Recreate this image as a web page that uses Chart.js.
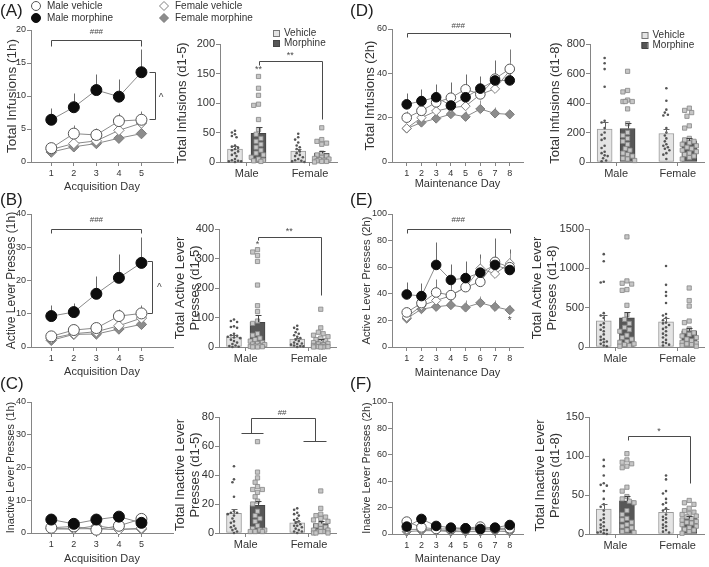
<!DOCTYPE html>
<html>
<head>
<meta charset="utf-8">
<title>Morphine self-administration</title>
<script src="https://cdn.jsdelivr.net/npm/chart.js@4.4.1/dist/chart.umd.min.js"></script>
<style>
  html, body { margin:0; padding:0; background:#ffffff; }
  #wrap { position:relative; width:709px; height:567px; overflow:hidden; background:#fff; }
  #wrap canvas { position:absolute; }
  .plabel { position:absolute; z-index:5; font-family:'Liberation Sans', Arial, sans-serif; font-size:17px; line-height:17px; color:#1e1e1e; }
</style>
</head>
<body>
<div id="wrap">
  <div class="plabel" style="left:0px;top:2px">(A)</div>
  <div class="plabel" style="left:0px;top:191px">(B)</div>
  <div class="plabel" style="left:0px;top:375px">(C)</div>
  <div class="plabel" style="left:350px;top:2px">(D)</div>
  <div class="plabel" style="left:350px;top:191px">(E)</div>
  <div class="plabel" style="left:350px;top:375px">(F)</div>
</div>
<script>
// ================= DATA =================
const acqDays = [1, 2, 3, 4, 5];
const mainDays = [1, 2, 3, 4, 5, 6, 7, 8];
const groupNames = ['Male vehicle', 'Male morphine', 'Female vehicle', 'Female morphine'];
const sexLabels = ['Male', 'Female'];
const treatLabels = ['Vehicle', 'Morphine'];

// (A) Total infusions (1h), acquisition
const aMaleVeh = [2.1, 4.3, 4.1, 6.2, 6.4];
const aMaleVehSem = [0.4, 1.3, 1.0, 1.3, 1.4];
const aMaleMor = [6.4, 8.3, 10.9, 9.9, 13.6];
const aMaleMorSem = [1.8, 2.1, 2.5, 2.7, 3.5];
const aFemVeh = [1.9, 2.8, 3.2, 4.8, 5.9];
const aFemVehSem = [0.3, 0.5, 0.5, 0.7, 0.8];
const aFemMor = [1.5, 2.3, 2.8, 3.6, 4.3];
const aFemMorSem = [0.3, 0.4, 0.4, 0.5, 0.5];
const aLineTicks = [0, 5, 10, 15, 20];
const aBarTicks = [0, 50, 100, 150, 200];
const aBarVehMean = [22, 18.5];
const aBarVehSem = [4.5, 3.5];
const aBarMorMean = [48.5, 14.5];
const aBarMorSem = [10, 3.5];
const aPtsMaleVeh = [53, 50, 47, 44, 42, 28, 26, 24, 22, 20, 18, 15, 12, 10, 5, 3, 2, 1, 1, 0];
const aPtsMaleMor = [145, 125, 113, 98, 96, 72, 55, 47, 40, 35, 30, 25, 20, 15, 12, 8, 5, 3, 2, 1];
const aPtsFemVeh = [48, 42, 38, 33, 28, 25, 22, 18, 15, 12, 10, 8, 5, 3, 2, 1, 0];
const aPtsFemMor = [58, 38, 35, 32, 30, 15, 12, 10, 8, 6, 5, 4, 3, 2, 1, 1, 0];

// (B) Active lever presses (1h), acquisition
const bMaleVeh = [3.2, 5.1, 5.7, 9.3, 10.1];
const bMaleVehSem = [0.6, 0.9, 1.0, 2.2, 2.6];
const bMaleMor = [9.3, 10.5, 16.0, 20.8, 25.3];
const bMaleMorSem = [3.2, 2.8, 5.5, 7.2, 7.8];
const bFemVeh = [2.6, 4.0, 4.6, 6.4, 8.7];
const bFemVehSem = [0.4, 0.6, 0.7, 0.9, 1.2];
const bFemMor = [2.0, 3.8, 3.9, 5.4, 6.8];
const bFemMorSem = [0.3, 0.5, 0.6, 0.8, 1.0];
const bLineTicks = [0, 10, 20, 30, 40];
const bBarTicks = [0, 100, 200, 300, 400];
const bBarVehMean = [34, 27];
const bBarVehSem = [7, 5];
const bBarMorMean = [84, 21];
const bBarMorSem = [24, 6];
const bPtsMaleVeh = [93, 88, 85, 70, 68, 65, 45, 40, 38, 35, 32, 30, 25, 20, 15, 10, 5, 3, 1, 0];
const bPtsMaleMor = [330, 322, 310, 290, 210, 140, 120, 88, 80, 45, 40, 30, 25, 20, 15, 12, 10, 8, 5, 3, 2, 1, 0, 0];
const bPtsFemVeh = [72, 65, 60, 50, 45, 40, 35, 30, 25, 20, 15, 12, 10, 8, 5, 3, 2, 0];
const bPtsFemMor = [128, 65, 50, 45, 40, 35, 30, 25, 22, 18, 15, 12, 10, 8, 5, 3, 2, 2, 1, 1, 0, 0, 0];

// (C) Inactive lever presses (1h), acquisition
const cMaleVeh = [1.6, 2.0, 1.0, 2.2, 4.3];
const cMaleVehSem = [0.3, 0.4, 0.3, 0.5, 0.6];
const cMaleMor = [4.1, 2.8, 4.1, 5.0, 3.1];
const cMaleMorSem = [0.6, 0.4, 0.6, 0.8, 0.5];
const cFemVeh = [1.2, 1.3, 1.3, 1.0, 1.5];
const cFemVehSem = [0.2, 0.2, 0.2, 0.2, 0.3];
const cFemMor = [1.4, 1.2, 2.2, 1.2, 1.2];
const cFemMorSem = [0.2, 0.2, 0.3, 0.2, 0.2];
const cLineTicks = [0, 10, 20, 30, 40];
const cBarTicks = [0, 20, 40, 60, 80];
const cBarVehMean = [13.5, 7];
const cBarVehSem = [2.8, 1.1];
const cBarMorMean = [19, 6.5];
const cBarMorSem = [3.4, 1.6];
const cPtsMaleVeh = [46, 37, 35, 25, 15, 14, 14, 13, 12, 10, 8, 7, 5, 4, 3, 2, 1, 0];
const cPtsMaleMor = [63, 42, 38, 35, 32, 30, 30, 28, 25, 22, 20, 15, 12, 10, 8, 5, 3, 2, 2, 1, 1, 1];
const cPtsFemVeh = [17, 16, 14, 13, 12, 10, 9, 8, 7, 6, 5, 5, 4, 3, 2, 1, 1, 0];
const cPtsFemMor = [29, 17, 13, 12, 11, 10, 9, 8, 6, 5, 4, 3, 2, 2, 1, 1, 1, 0, 0, 0];

// (D) Total infusions (2h), maintenance
const dMaleVeh = [20.0, 23.1, 26.9, 29.0, 32.8, 30.5, 37.6, 42.0];
const dMaleVehSem = [3, 3.5, 4, 4.5, 5, 5, 6, 9];
const dMaleMor = [26.0, 27.5, 29.2, 25.5, 29.2, 33.1, 36.8, 36.8];
const dMaleMorSem = [5, 5.5, 6, 10.5, 10.5, 5.7, 9.3, 4];
const dFemVeh = [15.2, 20.0, 23.0, 24.5, 25.2, 30.5, 33.0, 41.3];
const dFemVehSem = [1.5, 2, 2.5, 2.5, 3, 3.5, 4, 4];
const dFemMor = [15.1, 17.8, 19.6, 21.6, 20.4, 23.9, 21.9, 21.5];
const dFemMorSem = [1.5, 2, 2, 2.5, 2.5, 4, 3, 2];
const dLineTicks = [0, 20, 40, 60];
const dBarTicks = [0, 200, 400, 600, 800];
const dBarVehMean = [223, 193];
const dBarVehSem = [48, 28];
const dBarMorMean = [227, 143];
const dBarMorSem = [36, 22];
const dPtsMaleVeh = [705, 670, 630, 510, 280, 268, 230, 200, 185, 160, 150, 110, 95, 70, 60, 45, 40, 25, 10, 5];
const dPtsMaleMor = [615, 485, 475, 420, 410, 410, 410, 360, 260, 200, 180, 160, 140, 120, 90, 80, 60, 50, 40, 25, 20, 10];
const dPtsFemVeh = [500, 415, 355, 335, 320, 315, 230, 200, 180, 160, 140, 120, 110, 100, 90, 80, 60, 50, 20];
const dPtsFemMor = [365, 350, 335, 310, 245, 230, 160, 150, 140, 130, 120, 110, 100, 90, 80, 70, 60, 50, 40, 30, 20];

// (E) Active lever presses (2h), maintenance
const eMaleVeh = [26, 33, 41, 39, 45, 49, 64, 60];
const eMaleVehSem = [4, 5, 10, 8, 7, 8, 10, 10];
const eMaleMor = [39.5, 38.3, 61.7, 50.4, 51.8, 55.9, 61.7, 57.9];
const eMaleMorSem = [9.5, 9.7, 17.5, 12, 13, 14, 20, 16];
const eFemVeh = [22.5, 31, 35, 38.5, 45, 59, 55, 63];
const eFemVehSem = [3, 4, 5, 6, 6, 8, 8, 8];
const eFemMor = [21.4, 28.5, 30.2, 31.5, 29.7, 33.2, 30.2, 27.7];
const eFemMorSem = [2, 3, 4, 5, 6, 5, 5, 4];
const eLineTicks = [0, 20, 40, 60, 80, 100];
const eBarTicks = [0, 500, 1000, 1500];
const eBarVehMean = [332, 320];
const eBarVehSem = [72, 50];
const eBarMorMean = [372, 205];
const eBarMorSem = [75, 42];
const ePtsMaleVeh = [1180, 1090, 830, 820, 430, 400, 370, 300, 280, 250, 220, 200, 160, 130, 100, 90, 70, 60, 40, 20, 10];
const ePtsMaleMor = [1400, 840, 810, 800, 730, 720, 530, 410, 350, 300, 250, 220, 200, 150, 120, 100, 70, 60, 40, 30, 20, 10];
const ePtsFemVeh = [1030, 790, 700, 650, 560, 420, 400, 370, 340, 310, 300, 280, 250, 230, 200, 170, 150, 120, 90, 60, 50, 30, 20];
const ePtsFemMor = [750, 590, 520, 330, 310, 230, 200, 180, 160, 140, 120, 100, 80, 60, 50, 40, 30, 20, 10];

// (F) Inactive lever presses (2h), maintenance
const fMaleVeh = [9.4, 5.0, 3.8, 3.8, 4.3, 5.6, 4.3, 4.3];
const fMaleVehSem = [2, 1, 0.8, 0.8, 0.8, 1, 0.8, 0.8];
const fMaleMor = [5.6, 11.4, 6.1, 4.8, 4.3, 3.8, 4.8, 6.8];
const fMaleMorSem = [1, 2, 1, 1, 0.8, 0.8, 1, 1.2];
const fFemVeh = [3.5, 3.5, 3.0, 2.5, 3.5, 3.0, 3.5, 3.0];
const fFemVehSem = [0.6, 0.6, 0.5, 0.5, 0.6, 0.5, 0.6, 0.5];
const fFemMor = [1.8, 2.5, 2.5, 1.8, 1.8, 1.8, 2.2, 1.8];
const fFemMorSem = [0.4, 0.5, 0.5, 0.4, 0.4, 0.4, 0.4, 0.4];
const fLineTicks = [0, 20, 40, 60, 80, 100];
const fBarTicks = [0, 50, 100, 150];
const fBarVehMean = [32, 27.7];
const fBarVehSem = [6, 4.5];
const fBarMorMean = [42.5, 20];
const fBarMorSem = [6, 2.5];
const fPtsMaleVeh = [95, 87, 75, 65, 63, 62, 55, 45, 38, 35, 30, 25, 20, 18, 15, 12, 10, 8, 5, 5, 3, 2, 1, 0];
const fPtsMaleMor = [103, 95, 92, 90, 87, 85, 60, 55, 48, 45, 42, 40, 30, 25, 20, 18, 15, 12, 10, 8, 5, 3, 2];
const fPtsFemVeh = [75, 70, 55, 52, 45, 40, 38, 33, 30, 25, 22, 20, 18, 15, 12, 10, 8, 5, 3, 2];
const fPtsFemMor = [43, 40, 38, 33, 30, 28, 26, 25, 23, 22, 20, 18, 16, 15, 14, 12, 10, 8, 6, 5, 3, 1];

// ================= LAYOUT & STYLE =================
const FONT = "'Liberation Sans', Arial, Helvetica, sans-serif";
const AXIS_C = '#858585';
const TEXT_C = '#333333';
const NOTE_C = '#4a4a4a';
const LINE_C = '#8a8a8a';
const VEH_FILL = '#e4e4e4', VEH_EDGE = '#9a9a9a';
const MOR_FILL = '#575757', MOR_EDGE = '#444444';
const DOT_C = '#555555', DOT_R = 1.3;
const SQ_FILL = '#c6c6c6', SQ_EDGE = '#858585', SQ_R = 3.0;
const BAR_X = [-0.423, 1.427];
const VEH_OFF = -0.186, MOR_OFF = 0.186, BAR_PX = 15;
const XTITLE_SIZE = 11;

const SERIES_STYLE = [
  { pointStyle: 'circle', fill: '#ffffff', stroke: '#555555', sem: '#7a7a7a', z: 1 },
  { pointStyle: 'circle', fill: '#0d0d0d', stroke: '#0d0d0d', sem: '#6a6a6a', z: 0 },
  { pointStyle: 'rectRot', fill: '#ffffff', stroke: '#808080', sem: '#9a9a9a', z: 2 },
  { pointStyle: 'rectRot', fill: '#8c8c8c', stroke: '#7a7a7a', sem: '#9a9a9a', z: 3 }
];

const GEOM = {
  aLine: { box: { x: 0, y: 0, w: 255, h: 198 }, plot: { l: 31, t: 30, r: 173, b: 162 }, yTitleX: 12, xTitleY: 187 },
  aBar:  { box: { x: 168, y: 20, w: 177, h: 180 }, plot: { l: 220, t: 44, r: 337, b: 162 }, yTitleX: 182 },
  bLine: { box: { x: 0, y: 198, w: 180, h: 184 }, plot: { l: 31, t: 214, r: 173, b: 347 }, yTitleX: 12, xTitleY: 372 },
  bBar:  { box: { x: 168, y: 205, w: 177, h: 165 }, plot: { l: 219, t: 229, r: 336, b: 347 }, yTitleX: 180 },
  cLine: { box: { x: 0, y: 388, w: 180, h: 179 }, plot: { l: 31, t: 402, r: 173, b: 533 }, yTitleX: 11, xTitleY: 559 },
  cBar:  { box: { x: 168, y: 395, w: 177, h: 165 }, plot: { l: 219, t: 417, r: 336, b: 533 }, yTitleX: 180 },
  dLine: { box: { x: 350, y: 18, w: 185, h: 180 }, plot: { l: 392, t: 29, r: 523, b: 162 }, yTitleX: 370, xTitleY: 184 },
  dBar:  { box: { x: 535, y: 20, w: 174, h: 180 }, plot: { l: 590, t: 44, r: 707, b: 162 }, yTitleX: 555 },
  eLine: { box: { x: 350, y: 198, w: 185, h: 184 }, plot: { l: 392, t: 214, r: 523, b: 347 }, yTitleX: 367, xTitleY: 373 },
  eBar:  { box: { x: 527, y: 205, w: 182, h: 165 }, plot: { l: 589, t: 229, r: 706, b: 347 }, yTitleX: 537 },
  fLine: { box: { x: 350, y: 388, w: 185, h: 179 }, plot: { l: 392, t: 402, r: 523, b: 534 }, yTitleX: 367, xTitleY: 559 },
  fBar:  { box: { x: 527, y: 395, w: 182, h: 165 }, plot: { l: 589, t: 417, r: 706, b: 534 }, yTitleX: 540 }
};

const wrap = document.getElementById('wrap');

function makeCanvas(box) {
  const c = document.createElement('canvas');
  c.width = box.w; c.height = box.h;
  c.style.left = box.x + 'px'; c.style.top = box.y + 'px';
  c.style.width = box.w + 'px'; c.style.height = box.h + 'px';
  wrap.appendChild(c);
  return c;
}

function layoutPad(G) {
  return { left: 0, bottom: 0, top: G.plot.t - G.box.y, right: G.box.x + G.box.w - G.plot.r };
}

function axisLook() {
  return {
    grid: { display: true, drawOnChartArea: false, drawTicks: true, tickLength: 4, color: AXIS_C, lineWidth: 1 },
    border: { display: true, color: AXIS_C, width: 1 }
  };
}

function yAxis(G, ticks, title, titleSize, tickSize) {
  const lh = titleSize * 1.2;
  return Object.assign(axisLook(), {
    type: 'linear', min: ticks[0], max: ticks[ticks.length - 1],
    afterBuildTicks: s => { s.ticks = ticks.map(v => ({ value: v })); },
    afterFit: s => { s.width = G.plot.l - G.box.x; },
    ticks: { font: { family: FONT, size: tickSize }, color: TEXT_C, padding: 1, callback: v => String(v) },
    title: { display: true, text: title, color: TEXT_C, font: { family: FONT, size: titleSize },
      padding: { top: G.yTitleX - G.box.x - lh / 2, bottom: 0 } }
  });
}

function xAxisLine(G, days, range, title) {
  const lh = XTITLE_SIZE * 1.2;
  return Object.assign(axisLook(), {
    type: 'linear', min: range[0], max: range[1], offset: false,
    afterBuildTicks: s => { s.ticks = days.map(v => ({ value: v })); },
    afterFit: s => { s.height = G.box.y + G.box.h - G.plot.b; },
    ticks: { font: { family: FONT, size: 9 }, color: TEXT_C, padding: 2, maxRotation: 0, autoSkip: false,
      callback: v => String(v) },
    title: { display: true, text: title, color: TEXT_C, font: { family: FONT, size: XTITLE_SIZE },
      padding: { top: 0, bottom: G.box.y + G.box.h - G.xTitleY - lh / 2 } }
  });
}

function xAxisBar(G) {
  const look = axisLook();
  look.grid.offset = false;
  return Object.assign(look, {
    type: 'linear', min: BAR_X[0], max: BAR_X[1], offset: false,
    afterBuildTicks: s => { s.ticks = sexLabels.map((_, i) => ({ value: i })); },
    afterFit: s => { s.height = G.box.y + G.box.h - G.plot.b; },
    ticks: { font: { family: FONT, size: 11 }, color: TEXT_C, padding: 1, maxRotation: 0, autoSkip: false,
      callback: (v, i) => sexLabels[i] },
    title: { display: false }
  });
}

function drawSem(chart, kind) {
  const ctx = chart.ctx;
  chart.data.datasets.forEach((ds, di) => {
    if (!ds.sem || ds.semKind !== kind) return;
    const meta = chart.getDatasetMeta(di);
    const ys = chart.scales.y;
    ctx.save();
    ctx.strokeStyle = ds.semColor; ctx.lineWidth = 1;
    meta.data.forEach((el, i) => {
      const v = ds.data[i].y, e = ds.sem[i];
      const x = Math.round(el.x) + 0.5;
      const y0 = ys.getPixelForValue(v), y1 = Math.round(ys.getPixelForValue(v + e)) + 0.5;
      ctx.beginPath(); ctx.moveTo(x, y0); ctx.lineTo(x, y1);
      if (kind === 'bar') { ctx.moveTo(x - 3, y1); ctx.lineTo(x + 3, y1); }
      ctx.stroke();
    });
    ctx.restore();
  });
}

const semPlugin = {
  id: 'semBars',
  beforeDatasetsDraw(chart) { drawSem(chart, 'line'); },
  afterDatasetsDraw(chart) { drawSem(chart, 'bar'); }
};

function notesPlugin(items, extra) {
  return {
    id: 'notes',
    afterDraw(chart) {
      const ctx = chart.ctx, xs = chart.scales.x, ys = chart.scales.y;
      ctx.save();
      ctx.strokeStyle = NOTE_C; ctx.fillStyle = NOTE_C; ctx.lineWidth = 1;
      for (const it of items) {
        if (it.path) {
          ctx.beginPath();
          it.path.forEach((p, k) => {
            const px = Math.round(xs.getPixelForValue(p[0])) + 0.5;
            const py = Math.round(ys.getPixelForValue(p[1])) + 0.5;
            if (k) ctx.lineTo(px, py); else ctx.moveTo(px, py);
          });
          ctx.stroke();
        } else if (it.text) {
          ctx.font = (it.size || 9) + 'px ' + FONT;
          ctx.textAlign = 'center'; ctx.textBaseline = 'middle';
          ctx.fillText(it.text, xs.getPixelForValue(it.x), ys.getPixelForValue(it.y));
        }
      }
      ctx.restore();
      if (extra) extra(chart);
    }
  };
}

function marker(ctx, style, x, y, r) {
  ctx.beginPath();
  if (style === 'circle') ctx.arc(x, y, r, 0, Math.PI * 2);
  else { ctx.moveTo(x, y - r); ctx.lineTo(x + r, y); ctx.lineTo(x, y + r); ctx.lineTo(x - r, y); ctx.closePath(); }
  ctx.fill(); ctx.stroke();
}

// legend positions (page coordinates)
const LINE_LEGEND_POS = [[36, 6], [36, 18], [164, 6], [164, 18]];
function lineLegend(G) {
  return chart => {
    const ctx = chart.ctx;
    ctx.save();
    groupNames.forEach((name, i) => {
      const st = SERIES_STYLE[i];
      const x = LINE_LEGEND_POS[i][0] - G.box.x, y = LINE_LEGEND_POS[i][1] - G.box.y;
      ctx.fillStyle = st.fill; ctx.strokeStyle = st.stroke; ctx.lineWidth = 1;
      marker(ctx, st.pointStyle, x, y, 4.5);
      ctx.fillStyle = TEXT_C; ctx.font = '10px ' + FONT; ctx.textAlign = 'left'; ctx.textBaseline = 'middle';
      ctx.fillText(name, x + 11, y + 0.5);
    });
    ctx.restore();
  };
}
function barLegend(G, pos) {
  return chart => {
    const ctx = chart.ctx;
    ctx.save();
    treatLabels.forEach((name, i) => {
      const x = pos[0] - G.box.x, y = pos[1] + i * 10 - G.box.y;
      ctx.fillStyle = i ? MOR_FILL : VEH_FILL; ctx.strokeStyle = i ? MOR_EDGE : '#777';
      ctx.lineWidth = 1;
      ctx.fillRect(x - 3, y - 3, 6, 6); ctx.strokeRect(x - 3 + 0.5, y - 3 + 0.5, 6, 6);
      ctx.fillStyle = TEXT_C; ctx.font = '10px ' + FONT; ctx.textAlign = 'left'; ctx.textBaseline = 'middle';
      ctx.fillText(name, x + 8, y + 0.5);
    });
    ctx.restore();
  };
}

function baseOptions(G, scales) {
  return {
    responsive: false, animation: false, devicePixelRatio: 1, events: [],
    layout: { padding: layoutPad(G) },
    plugins: { legend: { display: false }, tooltip: { enabled: false } },
    scales: scales
  };
}

function lineChart(G, days, range, yTicks, seriesVals, seriesSem, yTitle, yTitleSize, xTitle, radii, notes, extra) {
  const cv = makeCanvas(G.box);
  const datasets = seriesVals.map((vals, si) => {
    const st = SERIES_STYLE[si];
    return {
      label: groupNames[si],
      data: days.map((d, i) => ({ x: d, y: vals[i] })),
      sem: seriesSem[si], semKind: 'line', semColor: st.sem,
      borderColor: LINE_C, borderWidth: 1, tension: 0, fill: false,
      pointStyle: st.pointStyle, pointRadius: st.pointStyle === 'circle' ? radii[0] : radii[1],
      pointBackgroundColor: st.fill, pointBorderColor: st.stroke, pointBorderWidth: 1,
      order: st.z, clip: false
    };
  });
  return new Chart(cv, {
    type: 'line',
    data: { datasets },
    options: baseOptions(G, { x: xAxisLine(G, days, range, xTitle), y: yAxis(G, yTicks, yTitle, yTitleSize, 9) }),
    plugins: [semPlugin, notesPlugin(notes, extra)]
  });
}

function swarm(values, center, G, yMax, rPx) {
  const pxX = (G.plot.r - G.plot.l) / (BAR_X[1] - BAR_X[0]);
  const pxY = (G.plot.b - G.plot.t) / yMax;
  const d = rPx * 2 + 0.5;
  const maxHalf = 7.5;
  const placed = [];
  const order = values.map((v, i) => i).sort((a, b) => values[b] - values[a]);
  const res = new Array(values.length);
  for (const i of order) {
    const py = values[i] * pxY;
    let chosen = null, bestScore = -1, bestOff = 0;
    for (let k = 0; k <= 40; k++) {
      const off = (k % 2 ? -1 : 1) * Math.ceil(k / 2) * (d / 2);
      if (Math.abs(off) > maxHalf) continue;
      let minD = Infinity;
      for (const p of placed) { const dd = Math.hypot(p.x - off, p.y - py); if (dd < minD) minD = dd; }
      if (minD >= d) { chosen = off; break; }
      if (minD > bestScore) { bestScore = minD; bestOff = off; }
    }
    if (chosen === null) chosen = bestOff;
    placed.push({ x: chosen, y: py });
    res[i] = { x: center + chosen / pxX, y: values[i] };
  }
  return res;
}

function barChart(G, yTicks, yTitle, vehMean, vehSem, morMean, morSem, pts, notes, extra) {
  const cv = makeCanvas(G.box);
  const yMax = yTicks[yTicks.length - 1];
  const dotSet = (vals, center) => ({
    type: 'scatter', data: swarm(vals, center, G, yMax, DOT_R), pointStyle: 'circle', pointRadius: DOT_R,
    pointBackgroundColor: DOT_C, pointBorderColor: DOT_C, pointBorderWidth: 0, order: 0, clip: false
  });
  const sqSet = (vals, center) => ({
    type: 'scatter', data: swarm(vals, center, G, yMax, SQ_R * 0.72), pointStyle: 'rect', pointRadius: SQ_R,
    pointBackgroundColor: SQ_FILL, pointBorderColor: SQ_EDGE, pointBorderWidth: 0.8, order: 0, clip: false
  });
  const datasets = [
    { type: 'bar', label: treatLabels[0], data: vehMean.map((m, i) => ({ x: i + VEH_OFF, y: m })),
      sem: vehSem, semKind: 'bar', semColor: '#666', backgroundColor: VEH_FILL, borderColor: VEH_EDGE,
      borderWidth: 1, borderSkipped: false, barThickness: BAR_PX, grouped: false, order: 1 },
    { type: 'bar', label: treatLabels[1], data: morMean.map((m, i) => ({ x: i + MOR_OFF, y: m })),
      sem: morSem, semKind: 'bar', semColor: '#444', backgroundColor: MOR_FILL, borderColor: MOR_EDGE,
      borderWidth: 1, borderSkipped: false, barThickness: BAR_PX, grouped: false, order: 1 },
    dotSet(pts[0], 0 + VEH_OFF),
    sqSet(pts[1], 0 + MOR_OFF),
    dotSet(pts[2], 1 + VEH_OFF),
    sqSet(pts[3], 1 + MOR_OFF)
  ];
  return new Chart(cv, {
    type: 'bar',
    data: { datasets },
    options: baseOptions(G, { x: xAxisBar(G), y: yAxis(G, yTicks, yTitle, 13, 11) }),
    plugins: [semPlugin, notesPlugin(notes, extra)]
  });
}

// ================= ANNOTATIONS =================
const aLineNotes = [
  { path: [[1, 17.6], [1, 18.5], [5, 18.5], [5, 17.6]] }, { text: '###', x: 3, y: 19.7, size: 8 },
  { path: [[5.33, 13.6], [5.6, 13.6], [5.6, 6.5], [5.33, 6.5]] }, { text: '^', x: 5.87, y: 9.6, size: 10 }
];
const bLineNotes = [
  { path: [[1, 34.4], [1, 35.5], [5, 35.5], [5, 34.4]] }, { text: '###', x: 3, y: 38.4, size: 8 },
  { path: [[5.23, 25.9], [5.48, 25.9], [5.48, 10.3], [5.23, 10.3]] }, { text: '^', x: 5.79, y: 17.6, size: 10 }
];
const cLineNotes = [];
const dLineNotes = [
  { path: [[1, 56.3], [1, 58], [8, 58], [8, 56.3]] }, { text: '###', x: 4.5, y: 61.3, size: 8 }
];
const eLineNotes = [
  { path: [[1, 85.8], [1, 88.5], [8, 88.5], [8, 85.8]] }, { text: '###', x: 4.5, y: 95.5, size: 8 },
  { text: '*', x: 8, y: 19.0, size: 10 }
];
const fLineNotes = [];
const aBarNotes = [
  { path: [[0.186, 164], [0.186, 171], [1.186, 171], [1.186, 73]] },
  { text: '**', x: 0.686, y: 180, size: 9 }, { text: '**', x: 0.186, y: 157, size: 9 }
];
const bBarNotes = [
  { path: [[0.186, 362], [0.186, 374], [1.186, 374], [1.186, 176]] },
  { text: '**', x: 0.686, y: 392, size: 9 }, { text: '*', x: 0.186, y: 346, size: 9 }
];
const cBarNotes = [
  { path: [[-0.08, 68.8], [0.277, 68.8]] },
  { path: [[0.088, 68.8], [0.088, 79.1], [1.095, 79.1], [1.095, 63.4]] },
  { path: [[0.91, 63.4], [1.27, 63.4]] },
  { text: '##', x: 0.575, y: 83, size: 8 }
];
const dBarNotes = [];
const eBarNotes = [];
const fBarNotes = [
  { path: [[0.209, 121], [0.209, 125.6], [1.205, 125.6], [1.205, 65.8]] },
  { text: '*', x: 0.70, y: 132, size: 9 }
];

// ================= CHARTS =================
const ACQ_RANGE = [0.1, 6.4], MAIN_RANGE = [0, 8.9];
const ACQ_R = [5.5, 5.2], MAIN_R = [4.8, 4.6];

lineChart(GEOM.aLine, acqDays, ACQ_RANGE, aLineTicks,
  [aMaleVeh, aMaleMor, aFemVeh, aFemMor], [aMaleVehSem, aMaleMorSem, aFemVehSem, aFemMorSem],
  'Total Infusions (1h)', 13.5, 'Acquisition Day', ACQ_R, aLineNotes, lineLegend(GEOM.aLine));
barChart(GEOM.aBar, aBarTicks, 'Total Infusions (d1-5)', aBarVehMean, aBarVehSem, aBarMorMean, aBarMorSem,
  [aPtsMaleVeh, aPtsMaleMor, aPtsFemVeh, aPtsFemMor], aBarNotes, barLegend(GEOM.aBar, [276, 33]));

lineChart(GEOM.bLine, acqDays, ACQ_RANGE, bLineTicks,
  [bMaleVeh, bMaleMor, bFemVeh, bFemMor], [bMaleVehSem, bMaleMorSem, bFemVehSem, bFemMorSem],
  'Active Lever Presses (1h)', 12, 'Acquisition Day', ACQ_R, bLineNotes, null);
barChart(GEOM.bBar, bBarTicks, ['Total Active Lever', 'Presses (d1-5)'], bBarVehMean, bBarVehSem, bBarMorMean, bBarMorSem,
  [bPtsMaleVeh, bPtsMaleMor, bPtsFemVeh, bPtsFemMor], bBarNotes, null);

lineChart(GEOM.cLine, acqDays, ACQ_RANGE, cLineTicks,
  [cMaleVeh, cMaleMor, cFemVeh, cFemMor], [cMaleVehSem, cMaleMorSem, cFemVehSem, cFemMorSem],
  'Inactive Lever Presses (1h)', 10.8, 'Acquisition Day', ACQ_R, cLineNotes, null);
barChart(GEOM.cBar, cBarTicks, ['Total Inactive Lever', 'Presses (d1-5)'], cBarVehMean, cBarVehSem, cBarMorMean, cBarMorSem,
  [cPtsMaleVeh, cPtsMaleMor, cPtsFemVeh, cPtsFemMor], cBarNotes, null);

lineChart(GEOM.dLine, mainDays, MAIN_RANGE, dLineTicks,
  [dMaleVeh, dMaleMor, dFemVeh, dFemMor], [dMaleVehSem, dMaleMorSem, dFemVehSem, dFemMorSem],
  'Total Infusions (2h)', 13, 'Maintenance Day', MAIN_R, dLineNotes, null);
barChart(GEOM.dBar, dBarTicks, 'Total Infusions (d1-8)', dBarVehMean, dBarVehSem, dBarMorMean, dBarMorSem,
  [dPtsMaleVeh, dPtsMaleMor, dPtsFemVeh, dPtsFemMor], dBarNotes, barLegend(GEOM.dBar, [644.5, 35]));

lineChart(GEOM.eLine, mainDays, MAIN_RANGE, eLineTicks,
  [eMaleVeh, eMaleMor, eFemVeh, eFemMor], [eMaleVehSem, eMaleMorSem, eFemVehSem, eFemMorSem],
  'Active Lever Presses (2h)', 11.2, 'Maintenance Day', MAIN_R, eLineNotes, null);
barChart(GEOM.eBar, eBarTicks, ['Total Active Lever', 'Presses (d1-8)'], eBarVehMean, eBarVehSem, eBarMorMean, eBarMorSem,
  [ePtsMaleVeh, ePtsMaleMor, ePtsFemVeh, ePtsFemMor], eBarNotes, null);

lineChart(GEOM.fLine, mainDays, MAIN_RANGE, fLineTicks,
  [fMaleVeh, fMaleMor, fFemVeh, fFemMor], [fMaleVehSem, fMaleMorSem, fFemVehSem, fFemMorSem],
  'Inactive Lever Presses (2h)', 10.8, 'Maintenance Day', MAIN_R, fLineNotes, null);
barChart(GEOM.fBar, fBarTicks, ['Total Inactive Lever', 'Presses (d1-8)'], fBarVehMean, fBarVehSem, fBarMorMean, fBarMorSem,
  [fPtsMaleVeh, fPtsMaleMor, fPtsFemVeh, fPtsFemMor], fBarNotes, null);
</script>
</body>
</html>
